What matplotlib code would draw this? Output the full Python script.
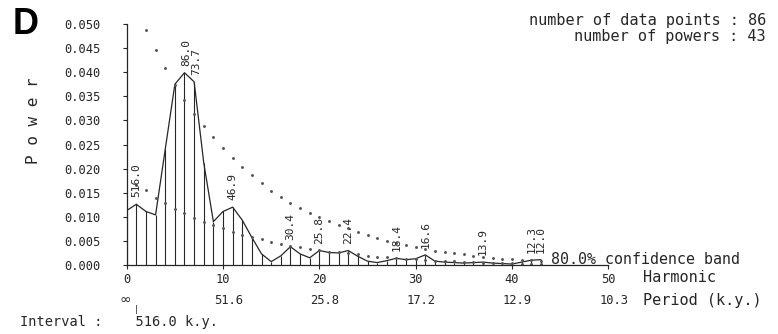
import matplotlib
matplotlib.use("Agg")
import matplotlib.pyplot as plt

# ---------------- data ----------------
harmonics = list(range(0, 44))
power = [0.0113, 0.0126, 0.0111, 0.0104, 0.0240, 0.0375, 0.0399, 0.0380, 0.0212, 0.0090,
         0.0111, 0.0120, 0.0093, 0.0057, 0.0023, 0.0007, 0.0019, 0.0038, 0.0023, 0.0015,
         0.0030, 0.0026, 0.0025, 0.0030, 0.0018, 0.0008, 0.0005, 0.0009, 0.0014, 0.0011,
         0.0013, 0.0021, 0.0008, 0.0006, 0.0005, 0.0004, 0.0005, 0.0006, 0.0004, 0.0003,
         0.0002, 0.0006, 0.0010, 0.0011]

band_harm = list(range(1, 44))
upper_band = [0.0535, 0.0488, 0.0446, 0.0408, 0.0374, 0.0343, 0.0314, 0.0288, 0.0265, 0.0242,
              0.0222, 0.0203, 0.0187, 0.0170, 0.0154, 0.0142, 0.0129, 0.0118, 0.0107, 0.0099,
              0.0091, 0.0083, 0.0076, 0.0069, 0.0062, 0.0055, 0.0050, 0.0045, 0.0041, 0.0037,
              0.0033, 0.0030, 0.0027, 0.0024, 0.0022, 0.0019, 0.0017, 0.0015, 0.0013, 0.0012,
              0.0011, 0.0010, 0.0009]
lower_band = [0.0167, 0.0155, 0.0140, 0.0128, 0.0117, 0.0107, 0.0098, 0.0090, 0.0083, 0.0076,
              0.0069, 0.0063, 0.0058, 0.0053, 0.0048, 0.0044, 0.0040, 0.0037, 0.0033, 0.0031,
              0.0028, 0.0026, 0.0024, 0.0022, 0.0019, 0.0017, 0.0016, 0.0014, 0.0013, 0.0012,
              0.0010, 0.0009, 0.0008, 0.0008, 0.0007, 0.0006, 0.0005, 0.0005, 0.0004, 0.0004,
              0.0003, 0.0003, 0.0003]

peak_harm = [1, 6, 7, 11, 17, 20, 23, 28, 31, 37, 42, 43]
peak_labels = ["516.0", "86.0", "73.7", "46.9", "30.4", "25.8", "22.4", "18.4",
               "16.6", "13.9", "12.3", "12.0"]

x_ticks = [0, 10, 20, 30, 40, 50]
x_tick_labels = ["0", "10", "20", "30", "40", "50"]
period_labels = ["\u221e", "51.6", "25.8", "17.2", "12.9", "10.3"]
y_ticks = [0.000, 0.005, 0.010, 0.015, 0.020, 0.025, 0.030, 0.035, 0.040, 0.045, 0.050]
y_tick_labels = ["0.000", "0.005", "0.010", "0.015", "0.020", "0.025",
                 "0.030", "0.035", "0.040", "0.045", "0.050"]

# ---------------- figure ----------------
W, H = 778, 334
MONO = "DejaVu Sans Mono"
INK = "#262626"

fig = plt.figure(figsize=(W / 100, H / 100), dpi=100)
ax = fig.add_axes([126.7 / W, (H - 265) / H, (608.3 - 126.7) / W, (265 - 24) / H])
ax.set_xlim(0, 50)
ax.set_ylim(0, 0.050)
for s in ("top", "right"):
    ax.spines[s].set_visible(False)
for s in ("left", "bottom"):
    ax.spines[s].set_linewidth(0.9)
    ax.spines[s].set_color(INK)

ax.vlines(harmonics, 0, power, color=INK, lw=0.8)
ax.plot(harmonics, power, color=INK, lw=0.9)
ax.plot(band_harm, upper_band, ls="none", marker="o", ms=1.1, color="#555555")
ax.plot(band_harm, lower_band, ls="none", marker="o", ms=1.1, color="#555555")

ax.set_xticks(x_ticks)
ax.set_xticklabels(x_tick_labels, fontfamily=MONO, fontsize=8.7, color=INK)
ax.set_yticks(y_ticks)
ax.set_yticklabels(y_tick_labels, fontfamily=MONO, fontsize=8.7, color=INK)
ax.tick_params(axis="x", direction="out", length=3, width=0.8, pad=3, colors=INK)
ax.tick_params(axis="y", direction="out", length=3, width=0.8, pad=16, colors=INK)

for h, lab in zip(peak_harm, peak_labels):
    dx = 2 if lab in ("86.0", "73.7") else 0
    ax.annotate(lab, (h, power[h]), xytext=(dx, 7), textcoords="offset pixels",
                rotation=90, ha="center", va="bottom", fontfamily=MONO,
                fontsize=8, color=INK)

# period row under the harmonic ticks
for x, lab in zip(x_ticks, period_labels):
    if lab == "\u221e":
        ax.annotate(lab, (x, 0), xycoords=("data", "axes fraction"),
                    xytext=(-1, -35), textcoords="offset pixels",
                    ha="center", va="center", fontfamily="DejaVu Sans",
                    fontsize=10, color=INK)
    else:
        ax.annotate(lab, (x, 0), xycoords=("data", "axes fraction"),
                    xytext=(-9, -35), textcoords="offset pixels",
                    ha="left", va="center", fontfamily=MONO,
                    fontsize=8.7, color=INK)


def fx(px):
    return px / W


def fy(py):
    return 1 - py / H


fig.text(fx(551), fy(260), "80.0% confidence band", ha="left", va="center",
         fontfamily=MONO, fontsize=10.8, color=INK)
fig.text(fx(643), fy(278), "Harmonic", ha="left", va="center",
         fontfamily=MONO, fontsize=11, color=INK)
fig.text(fx(643), fy(300), "Period (k.y.)", ha="left", va="center",
         fontfamily=MONO, fontsize=11, color=INK)
fig.text(fx(20), fy(322), "Interval :    516.0 k.y.", ha="left", va="center",
         fontfamily=MONO, fontsize=9.8, color=INK)
fig.text(fx(136), fy(310), "|", ha="center", va="center",
         fontfamily=MONO, fontsize=6, color=INK)
fig.text(fx(766), fy(21), "number of data points : 86", ha="right", va="center",
         fontfamily=MONO, fontsize=11, color=INK)
fig.text(fx(766), fy(37), "number of powers : 43", ha="right", va="center",
         fontfamily=MONO, fontsize=11, color=INK)
fig.text(fx(33), fy(121), "P o w e r", ha="center", va="center", rotation=90,
         fontfamily=MONO, fontsize=11.5, color=INK)
fig.text(fx(13), fy(7), "D", ha="left", va="top", fontfamily="Liberation Sans",
         fontweight="bold", fontsize=26, color="black")

fig.savefig("out.png", dpi=100, facecolor="white")
